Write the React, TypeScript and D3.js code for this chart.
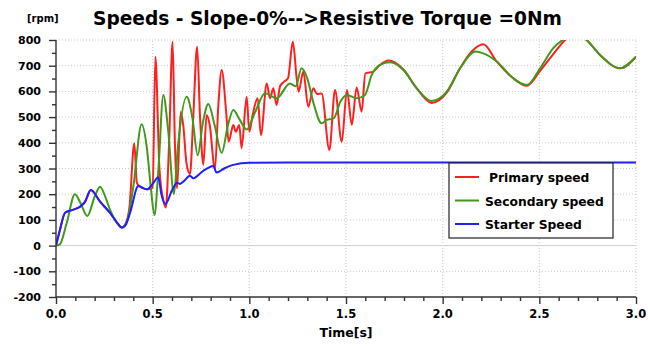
import React, { useEffect, useRef } from 'react';
import * as d3 from 'd3';

// time [s] / speed [rpm] pairs
const starterT = [0, 0.02, 0.047, 0.09, 0.124, 0.15, 0.18, 0.228, 0.28, 0.32, 0.34, 0.36, 0.383, 0.426, 0.469, 0.5, 0.529, 0.545, 0.566, 0.6, 0.626, 0.64, 0.66, 0.693, 0.71, 0.76, 0.814, 0.83, 0.87, 0.917, 1.0, 1.2, 1.5, 2.0, 3.0];
const starterV = [0, 60, 128, 140, 151, 170, 216, 171, 127, 85, 70, 80, 127, 232, 219, 240, 266, 200, 162, 215, 245, 240, 250, 272, 262, 290, 310, 284, 300, 314, 322, 323, 323, 323, 323];

const secondaryT = [0, 0.02, 0.055, 0.098, 0.13, 0.162, 0.2, 0.228, 0.255, 0.28, 0.31, 0.34, 0.37, 0.4, 0.443, 0.47, 0.49, 0.509, 0.53, 0.555, 0.58, 0.61, 0.63, 0.676, 0.705, 0.733, 0.76, 0.788, 0.82, 0.857, 0.89, 0.917, 0.95, 0.986, 1.03, 1.081, 1.141, 1.21, 1.24, 1.27, 1.3, 1.33, 1.374, 1.4, 1.436, 1.471, 1.505, 1.555, 1.598, 1.633, 1.676, 1.728, 1.797, 1.866, 1.943, 2.021, 2.09, 2.17, 2.21, 2.28, 2.365, 2.435, 2.504, 2.572, 2.64, 2.69, 2.745, 2.814, 2.917, 3.0];
const secondaryV = [0, 5, 87, 200, 160, 115, 190, 229, 190, 138, 95, 70, 100, 230, 472, 380, 230, 119, 300, 586, 450, 200, 380, 579, 500, 352, 480, 551, 470, 361, 470, 528, 490, 452, 520, 593, 573, 631, 620, 690, 650, 560, 476, 489, 495, 560, 586, 573, 586, 664, 703, 713, 683, 612, 563, 599, 690, 755, 748, 716, 651, 625, 690, 768, 810, 830, 800, 742, 690, 735];

const primaryT = [0, 0.02, 0.047, 0.09, 0.124, 0.15, 0.18, 0.228, 0.28, 0.32, 0.34, 0.36, 0.38, 0.405, 0.418, 0.43, 0.469, 0.5, 0.514, 0.535, 0.555, 0.568, 0.585, 0.603, 0.615, 0.626, 0.645, 0.658, 0.675, 0.693, 0.71, 0.73, 0.745, 0.762, 0.779, 0.795, 0.822, 0.84, 0.857, 0.88, 0.893, 0.917, 0.93, 0.948, 0.96, 0.986, 1.0, 1.017, 1.043, 1.06, 1.09, 1.107, 1.124, 1.141, 1.159, 1.18, 1.2, 1.225, 1.245, 1.255, 1.279, 1.305, 1.331, 1.35, 1.374, 1.414, 1.443, 1.478, 1.505, 1.53, 1.555, 1.581, 1.6, 1.641, 1.676, 1.72, 1.797, 1.866, 1.943, 2.021, 2.09, 2.15, 2.21, 2.28, 2.365, 2.435, 2.504, 2.572, 2.64, 2.69, 2.745, 2.814, 2.917, 3.0];
const primaryV = [0, 60, 128, 140, 151, 170, 216, 171, 127, 85, 70, 85, 150, 398, 245, 232, 219, 225, 735, 300, 177, 148, 400, 793, 400, 223, 520, 470, 320, 278, 500, 774, 500, 315, 508, 470, 298, 550, 683, 521, 404, 469, 443, 469, 379, 579, 443, 508, 573, 430, 631, 573, 612, 547, 620, 638, 651, 793, 650, 599, 677, 540, 612, 590, 592, 372, 605, 404, 605, 470, 615, 521, 670, 677, 703, 720, 685, 612, 555, 595, 690, 755, 783, 716, 651, 622, 680, 745, 805, 830, 800, 742, 690, 735];

const yTicks = [800, 700, 600, 500, 400, 300, 200, 100, 0, -100, -200];
const xTicks = [0, 0.5, 1.0, 1.5, 2.0, 2.5, 3.0];

const series = [
  { name: 'Primary speed', t: primaryT, v: primaryV, color: '#ff1f1f' },
  { name: 'Secondary speed', t: secondaryT, v: secondaryV, color: '#3f9a1c' },
  { name: 'Starter Speed', t: starterT, v: starterV, color: '#1f1fff' },
];

const App = () => {
  const svgRef = useRef<SVGSVGElement | null>(null);

  useEffect(() => {
    const svg = d3.select(svgRef.current);
    svg.selectAll('*').remove();

    const width = 648;
    const height = 348;
    const margin = { top: 40, right: 12, bottom: 51, left: 56 };
    const font = '"DejaVu Sans", Verdana, sans-serif';

    const x = d3.scaleLinear().domain([0, 3]).range([margin.left, width - margin.right]);
    const y = d3.scaleLinear().domain([-200, 800]).range([height - margin.bottom, margin.top]);

    svg.append('rect').attr('width', width).attr('height', height).attr('fill', '#fff');

    // title and unit
    svg.append('text')
      .attr('x', 93).attr('y', 25)
      .attr('font-family', font).attr('font-weight', 'bold').attr('font-size', 18.6)
      .text('Speeds - Slope-0%-->Resistive Torque =0Nm');
    svg.append('text')
      .attr('x', 27).attr('y', 22)
      .attr('font-family', font).attr('font-weight', 'bold').attr('font-size', 10)
      .text('[rpm]');

    // grid
    const grid = svg.append('g').attr('stroke', '#c9c9c9').attr('stroke-dasharray', '1,2');
    grid.selectAll('.gy').data(yTicks.filter((d) => d !== 0 && d !== -200)).join('line')
      .attr('x1', x(0)).attr('x2', x(3))
      .attr('y1', (d) => y(d)).attr('y2', (d) => y(d));
    grid.selectAll('.gx').data(xTicks.filter((d) => d !== 0)).join('line')
      .attr('x1', (d) => x(d)).attr('x2', (d) => x(d))
      .attr('y1', y(-200)).attr('y2', y(800));
    svg.append('line')
      .attr('x1', x(0)).attr('x2', x(3)).attr('y1', y(0)).attr('y2', y(0))
      .attr('stroke', '#cfcfcf');

    // curves
    svg.append('clipPath').attr('id', 'plotClip')
      .append('rect')
      .attr('x', x(0)).attr('y', y(800))
      .attr('width', x(3) - x(0)).attr('height', y(-200) - y(800));

    const gen = d3.line<[number, number]>()
      .x((d) => x(d[0]))
      .y((d) => y(d[1]))
      .curve(d3.curveMonotoneX);

    series.forEach((s) => {
      const pts: [number, number][] = s.t.map((t, i) => [t, s.v[i]]);
      svg.append('path')
        .attr('clip-path', 'url(#plotClip)')
        .attr('d', gen(pts))
        .attr('fill', 'none')
        .attr('stroke', s.color)
        .attr('stroke-width', 2)
        .attr('stroke-linejoin', 'round');
    });

    // axes
    const yAxis = svg.append('g').attr('transform', `translate(${x(0)},0)`);
    yAxis.call(
      d3.axisLeft(y).tickValues(d3.range(-200, 801, 50)).tickSize(5).tickFormat(() => '')
    );
    yAxis.selectAll('.tick line')
      .attr('x2', (d: any) => (d % 100 === 0 ? -7 : -4));
    yAxis.selectAll('path, line').attr('stroke', '#333').attr('stroke-width', 1.4);
    yAxis.select('.domain').attr('d', `M0,${y(800)}V${y(-200)}`);

    svg.selectAll('.ylab').data(yTicks).join('text')
      .attr('x', 41).attr('y', (d) => y(d) + 4)
      .attr('text-anchor', 'end')
      .attr('font-family', font).attr('font-weight', 'bold').attr('font-size', 11)
      .text((d) => String(d));

    const xAxis = svg.append('g').attr('transform', `translate(0,${y(-200)})`);
    xAxis.call(
      d3.axisBottom(x).tickValues(d3.range(0, 31).map((i) => i / 10)).tickSize(5).tickFormat(() => '')
    );
    xAxis.selectAll('.tick line')
      .attr('y2', (d: any) => (Math.round(d * 10) % 5 === 0 ? 7 : 4));
    xAxis.selectAll('path, line').attr('stroke', '#333').attr('stroke-width', 1.4);
    xAxis.select('.domain').attr('d', `M${x(0)},0H${x(3)}`);

    svg.selectAll('.xlab').data(xTicks).join('text')
      .attr('x', (d) => x(d)).attr('y', y(-200) + 21)
      .attr('text-anchor', 'middle')
      .attr('font-family', font).attr('font-weight', 'bold').attr('font-size', 11.5)
      .text((d) => d.toFixed(1));

    svg.append('text')
      .attr('x', x(1.5)).attr('y', 337)
      .attr('text-anchor', 'middle')
      .attr('font-family', font).attr('font-weight', 'bold').attr('font-size', 12.5)
      .text('Time[s]');

    // legend
    const lg = svg.append('g').attr('transform', 'translate(449,163)');
    lg.append('rect')
      .attr('width', 164).attr('height', 75)
      .attr('fill', '#fff').attr('stroke', '#222').attr('stroke-width', 1.2);
    series.forEach((s, i) => {
      const ly = 14 + i * 23.5;
      lg.append('line')
        .attr('x1', 6).attr('x2', 30).attr('y1', ly).attr('y2', ly)
        .attr('stroke', s.color).attr('stroke-width', 2);
      lg.append('text')
        .attr('x', i === 0 ? 40 : 36).attr('y', ly + 5)
        .attr('font-family', font).attr('font-weight', 'bold').attr('font-size', 12.3)
        .text(s.name);
    });
  }, []);

  return (
    <svg
      ref={svgRef}
      width={648}
      height={348}
      style={{ position: 'absolute', left: 0, top: 0 }}
    />
  );
};

export default App;
